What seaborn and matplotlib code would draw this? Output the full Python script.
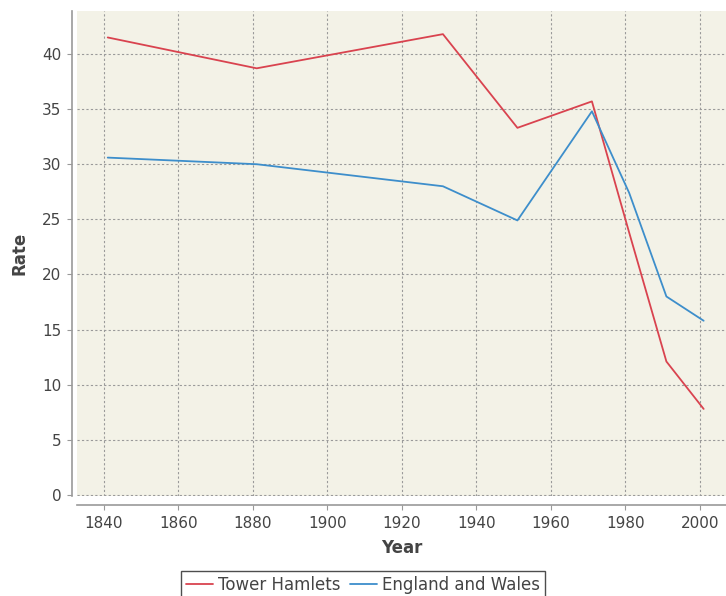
import pandas as pd
import seaborn as sns
import matplotlib.pyplot as plt

# Data
years = [1841, 1881, 1931, 1951, 1971, 1981, 1991, 2001]
tower_hamlets = [41.5, 38.7, 41.8, 33.3, 35.7, 23.8, 12.1, 7.8]
england_wales = [30.6, 30.0, 28.0, 24.9, 34.8, 27.4, 18.0, 15.8]
series_names = ['Tower Hamlets', 'England and Wales']
x_ticks = [1840, 1860, 1880, 1900, 1920, 1940, 1960, 1980, 2000]
y_ticks = [0, 5, 10, 15, 20, 25, 30, 35, 40]

df = pd.DataFrame({
    'Year': years * 2,
    'Rate': tower_hamlets + england_wales,
    'Area': [series_names[0]] * len(years) + [series_names[1]] * len(years),
})

sns.set_style('white')
plt.rcParams['font.family'] = ['DejaVu Sans']

fig = plt.figure(figsize=(7.26, 5.96), dpi=100)
ax = fig.add_axes([77 / 726, 1 - 496 / 596, 649 / 726, 485 / 596])

sns.lineplot(
    data=df, x='Year', y='Rate', hue='Area',
    palette=['#d9434f', '#3d8ecb'], linewidth=1.3, ax=ax, legend=False
)

ax.set_facecolor('#f3f2e7')
ax.set_xlim(1832.75, 2007)
ax.set_ylim(-0.1, 43.9)
ax.set_xticks(x_ticks)
ax.set_yticks(y_ticks)
ax.grid(True, color='#9a9a9a', linestyle=(0, (2, 2)), linewidth=0.8)

for side in ['top', 'right']:
    ax.spines[side].set_visible(False)
# outward offsets are in points (dpi 100)
ax.spines['left'].set_position(('outward', 3.6))
ax.spines['bottom'].set_position(('outward', 6.5))
ax.spines['left'].set_color('#999999')
ax.spines['bottom'].set_color('#999999')
ax.spines['left'].set_linewidth(1.2)
ax.spines['bottom'].set_linewidth(1.2)
ax.tick_params(axis='both', direction='out', length=3.6, color='#999999',
               labelsize=11, labelcolor='#444444', left=True, bottom=True, pad=4)

ax.set_xlabel('Year', fontsize=12, fontweight='bold', color='#444444', labelpad=6)
ax.set_ylabel('Rate', fontsize=12, fontweight='bold', color='#444444', labelpad=10)

handles = [plt.Line2D([], [], color=c, linewidth=1.3) for c in ['#d9434f', '#3d8ecb']]
leg = fig.legend(handles, series_names, loc='upper center', bbox_to_anchor=(0.5, 1 - 571 / 596),
                 ncol=2, frameon=True, fancybox=False, fontsize=12, handlelength=1.6,
                 handletextpad=0.3, columnspacing=0.6, borderaxespad=0, borderpad=0.3)
leg.get_frame().set_edgecolor('#222222')
leg.get_frame().set_linewidth(1.0)
for t in leg.get_texts():
    t.set_color('#444444')

fig.savefig('out.png', dpi=100)
